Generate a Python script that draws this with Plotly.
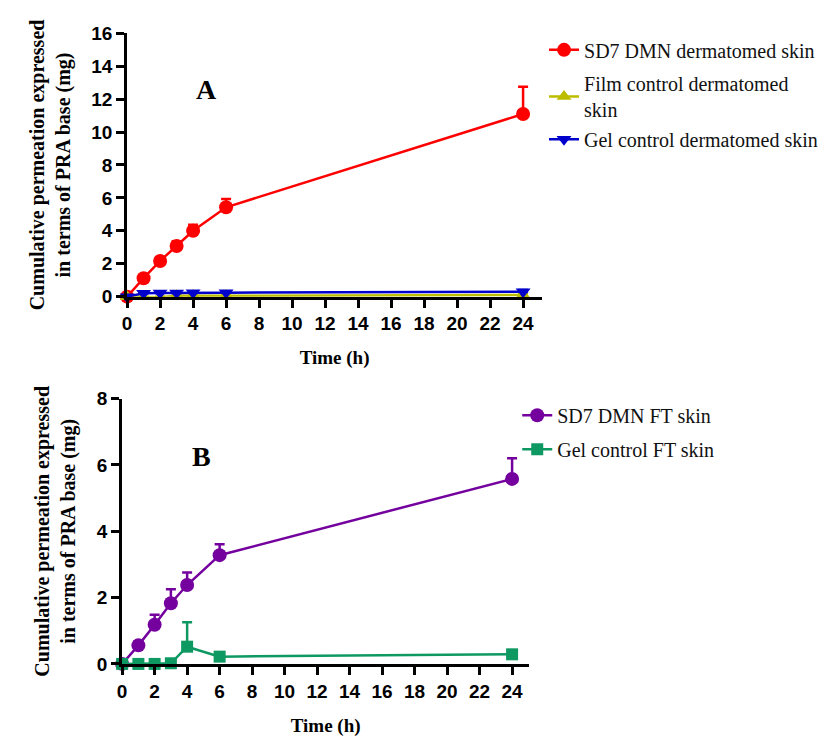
import plotly.graph_objects as go

W, H = 823, 741

time_h = [0, 1, 2, 3, 4, 6, 24]

# Panel A (dermatomed skin)
sd7_derm = [0, 1.12, 2.17, 3.08, 4.0, 5.43, 11.1]
sd7_derm_err = [0, 0.08, 0.12, 0.28, 0.37, 0.5, 1.65]
film_derm = [0, -0.03, -0.03, 0.05, 0.05, 0.05, 0.1]
film_derm_err = [0, 0.02, 0.02, 0.03, 0.03, 0.03, 0.05]
gel_derm = [0, 0.2, 0.22, 0.22, 0.24, 0.24, 0.3]
gel_derm_err = [0, 0.05, 0.05, 0.05, 0.05, 0.05, 0.1]

# Panel B (full thickness skin)
sd7_ft = [0, 0.56, 1.18, 1.83, 2.38, 3.28, 5.58]
sd7_ft_err = [0, 0.12, 0.3, 0.42, 0.38, 0.33, 0.62]
gel_ft = [0, 0.0, 0.0, 0.02, 0.52, 0.22, 0.29]
gel_ft_err = [0, 0.0, 0.0, 0.0, 0.74, 0.0, 0.0]

x_ticks = list(range(0, 25, 2))
yA_ticks = list(range(0, 17, 2))
yB_ticks = list(range(0, 9, 2))

names_A = ["SD7 DMN dermatomed skin", "Film control dermatomed<br>skin", "Gel control dermatomed skin"]
names_B = ["SD7 DMN FT skin", "Gel control FT skin"]

serif = "Liberation Serif"
sans = "Liberation Sans"

fig = go.Figure()

def add(x, y, err, name, color, symbol, size, xa, ya, legend):
    fig.add_trace(go.Scatter(
        x=x, y=y, name=name, mode="lines+markers",
        line=dict(color=color, width=2.5),
        marker=dict(color=color, symbol=symbol, size=size, line=dict(width=0)),
        error_y=dict(type="data", symmetric=False, array=err, arrayminus=[0]*len(err),
                     color=color, thickness=2.5, width=5),
        xaxis=xa, yaxis=ya, legend=legend, cliponaxis=False,
    ))

add(time_h, sd7_derm, sd7_derm_err, names_A[0], "#FF0000", "circle", 14, "x", "y", "legend")
add(time_h, film_derm, film_derm_err, names_A[1], "#BDBD00", "triangle-up", 13, "x", "y", "legend2")
add(time_h, gel_derm, gel_derm_err, names_A[2], "#0000CC", "triangle-down", 13, "x", "y", "legend3")
add(time_h, sd7_ft, sd7_ft_err, names_B[0], "#74009E", "circle", 14, "x2", "y2", "legend4")
add(time_h, gel_ft, gel_ft_err, names_B[1], "#0E9962", "square", 12, "x2", "y2", "legend5")

tickfont = dict(family=sans, size=19, color="black", weight="bold")
axis_common = dict(showline=True, linecolor="black", linewidth=3, ticks="outside",
                   ticklen=8, tickwidth=3, tickcolor="black", showgrid=False,
                   zeroline=False, tickfont=tickfont)
ytitle = dict(text="Cumulative permeation expressed<br>in terms of PRA base (mg)",
              font=dict(family=serif, size=20, color="black", weight="bold"), standoff=16)
xtitle = dict(text="Time (h)", font=dict(family=serif, size=19, color="black", weight="bold"), standoff=18)

def px_x(p):
    return p / W

def px_y(p):
    return 1 - p / H

fig.update_layout(
    width=W, height=H, margin=dict(l=0, r=0, t=0, b=0),
    plot_bgcolor="white", paper_bgcolor="white",
    xaxis=dict(domain=[px_x(123), px_x(541)], range=[0, 25.15], tickvals=x_ticks,
               anchor="y", title=xtitle, **axis_common),
    yaxis=dict(domain=[px_y(295), px_y(24)], range=[0, 16], tickvals=yA_ticks,
               anchor="x", title=ytitle, **axis_common),
    xaxis2=dict(domain=[px_x(118), px_x(528)], range=[0, 25.05], tickvals=x_ticks,
                anchor="y2", title=xtitle, **axis_common),
    yaxis2=dict(domain=[px_y(673), px_y(400)], range=[0, 8], tickvals=yB_ticks,
                anchor="x2", title=ytitle, **axis_common),
    showlegend=True,
)

legfont = dict(family=serif, size=20, color="#111111")
def leg(xp, yp):
    return dict(x=px_x(xp), y=px_y(yp), xanchor="left", yanchor="middle",
                font=legfont, itemwidth=30, bgcolor="rgba(0,0,0,0)", borderwidth=0)

fig.update_layout(
    legend=leg(543, 41),
    legend2=leg(543, 89),
    legend3=leg(543, 133),
    legend4=leg(516, 417),
    legend5=leg(516, 452),
)

fig.add_annotation(x=4.8, y=12.6, xref="x", yref="y", text="A", showarrow=False,
                   font=dict(family=serif, size=28, color="black", weight="bold"))
fig.add_annotation(x=4.9, y=6.25, xref="x2", yref="y2", text="B", showarrow=False,
                   font=dict(family=serif, size=28, color="black", weight="bold"))

fig.write_html("out.html")
